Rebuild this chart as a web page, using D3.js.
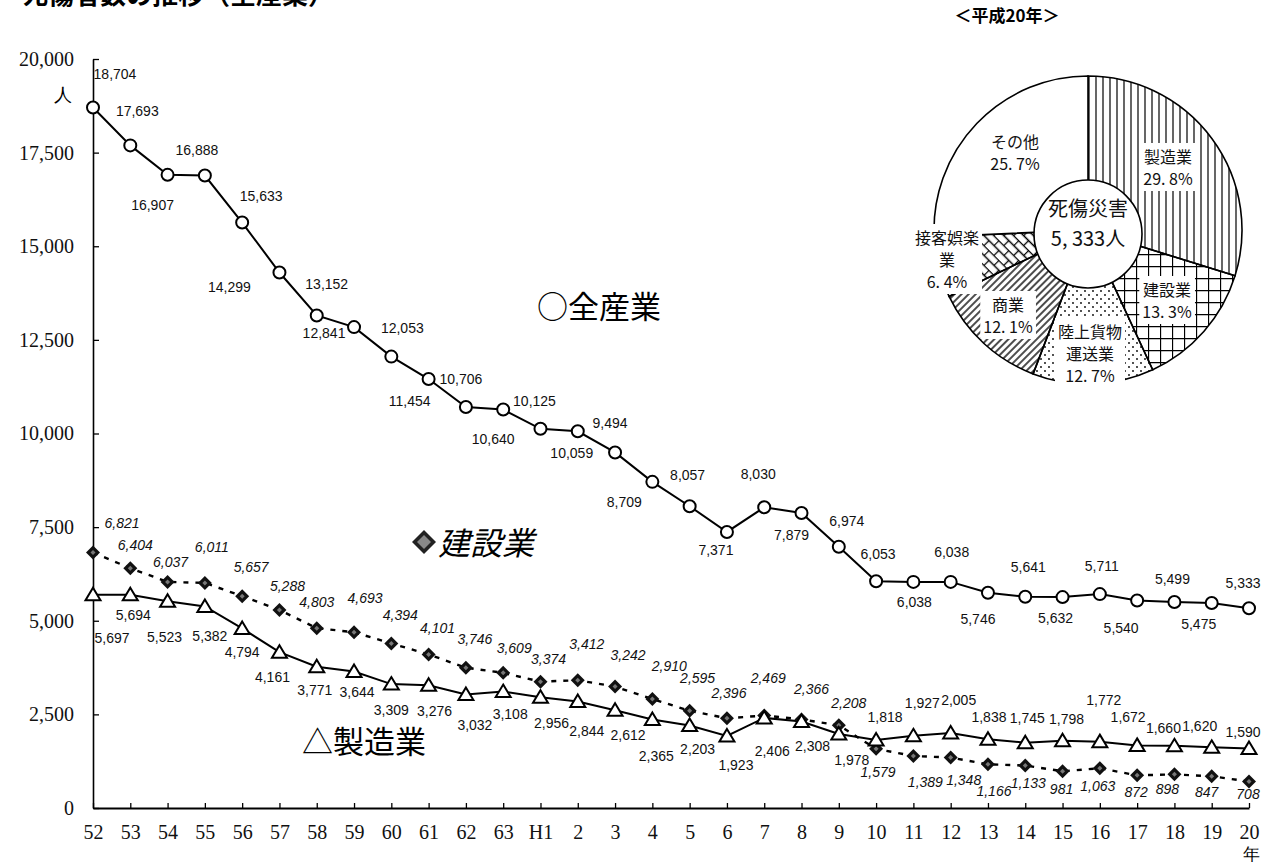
<!DOCTYPE html>
<html>
<head>
<meta charset="utf-8">
<script src="https://cdn.jsdelivr.net/npm/d3@7"></script>
<style>
  body { margin: 0; background: #fff; }
  svg { display: block; }
</style>
</head>
<body>
<script>
// 年（昭和52年～平成20年）
const years = ["52","53","54","55","56","57","58","59","60","61","62","63","H1",
  "2","3","4","5","6","7","8","9","10","11","12","13","14","15","16","17","18","19","20"];

// 全産業
const allIndustry = [18704,17693,16907,16888,15633,14299,13152,12841,12053,11454,10706,10640,10125,
  10059,9494,8709,8057,7371,8030,7879,6974,6053,6038,6038,5746,5641,5632,5711,5540,5499,5475,5333];
// 建設業
const construction = [6821,6404,6037,6011,5657,5288,4803,4693,4394,4101,3746,3609,3374,
  3412,3242,2910,2595,2396,2469,2366,2208,1579,1389,1348,1166,1133,981,1063,872,898,847,708];
// 製造業
const manufacturing = [5697,5694,5523,5382,4794,4161,3771,3644,3309,3276,3032,3108,2956,
  2844,2612,2365,2203,1923,2406,2308,1978,1818,1927,2005,1838,1745,1798,1772,1672,1660,1620,1590];

const yTicks = [0,2500,5000,7500,10000,12500,15000,17500,20000];

// 円グラフ（平成20年）
const pieNames = ["製造業","建設業","陸上貨物運送業","商業","接客娯楽業","その他"];
const pieShares = [29.8,13.3,12.7,12.1,6.4,25.7];
const pieTotal = 5333;

// ---- レイアウト（ラベルの位置ずらし：点からの相対位置） ----
const allOffsets = [[22,-33],[7,-34],[-15,30],[-8,-25],[19,-26],[-50,15],[10,-31],[-30,6],[11,-29],[-19,22],
  [-5,-28],[-10,30],[-6,-28],[-6,22],[-5,-29],[-28,20],[-2,-31],[-11,18],[-6,-33],[-10,22],[8,-26],
  [2,-27],[1,20],[1,-30],[-10,26],[3,-30],[-7,21],[2,-28],[-16,28],[-2,-23],[-13,21],[-6,-25]];
const conOffsets = [[29,-29],[5,-23],[3,-20],[7,-36],[9,-29],[8,-24],[0,-26],[11,-34],[9,-28],[9,-26],
  [9,-29],[11,-25],[8,-23],[9,-36],[13,-31],[17,-33],[8,-33],[2,-25],[4,-37],[10,-30],[10,-22],
  [2,23],[12,26],[13,23],[6,27],[3,18],[-1,18],[-2,18],[-1,17],[-7,15],[-5,16],[-1,13]];
const manOffsets = [[19,43],[3,20],[-3,36],[5,30],[0,24],[-7,25],[-2,23],[3,21],[0,26],[6,26],
  [9,31],[7,22],[11,26],[9,30],[13,25],[4,37],[8,24],[9,29],[8,33],[11,25],[13,26],
  [9,-23],[9,-33],[8,-33],[1,-22],[2,-25],[4,-22],[4,-42],[-9,-28],[-11,-18],[-12,-21],[-6,-16]];

// 円グラフのラベル位置（中心からの相対位置）と改行位置
const pieLabelPos = [[80,-67],[79,66],[2,108],[-80,81],[-141,14],[-73,-82]];
const pieWrap = [0,0,4,0,4,0];
const piePatterns = ["pVert","pGrid","pDots","pDiag","pBrick",null];

const width = 1274, height = 866;
const sans = "'Noto Sans CJK JP', 'Noto Sans', sans-serif";
const serif = "'Liberation Serif', 'DejaVu Serif', serif";
const num = "'Liberation Sans', Arial, sans-serif";

const svg = d3.select("body").append("svg")
    .attr("width", width)
    .attr("height", height)
    .style("background", "#fff");

// パターン定義
const defs = svg.append("defs");
const pv = defs.append("pattern").attr("id", "pVert").attr("patternUnits", "userSpaceOnUse")
    .attr("width", 7).attr("height", 7);
pv.append("line").attr("x1", 1).attr("x2", 1).attr("y1", 0).attr("y2", 7).attr("stroke", "#000").attr("stroke-width", 1.2);

const pg = defs.append("pattern").attr("id", "pGrid").attr("patternUnits", "userSpaceOnUse")
    .attr("width", 12).attr("height", 12);
pg.append("path").attr("d", "M0,0.5H12M0.5,0V12").attr("stroke", "#000").attr("stroke-width", 1.3).attr("fill", "none");

const pd = defs.append("pattern").attr("id", "pDots").attr("patternUnits", "userSpaceOnUse")
    .attr("width", 8).attr("height", 8);
pd.append("circle").attr("cx", 1).attr("cy", 1).attr("r", 0.9).attr("fill", "#000");
pd.append("circle").attr("cx", 5).attr("cy", 5).attr("r", 0.9).attr("fill", "#000");

const pdg = defs.append("pattern").attr("id", "pDiag").attr("patternUnits", "userSpaceOnUse")
    .attr("width", 5).attr("height", 5).attr("patternTransform", "rotate(45)");
pdg.append("line").attr("x1", 1).attr("x2", 1).attr("y1", 0).attr("y2", 5).attr("stroke", "#000").attr("stroke-width", 1.4);

const pb = defs.append("pattern").attr("id", "pBrick").attr("patternUnits", "userSpaceOnUse")
    .attr("width", 14).attr("height", 14).attr("patternTransform", "rotate(45)");
pb.append("path").attr("d", "M0,0.5H14M0,7.5H14M0.5,0V7M7.5,7V14")
    .attr("stroke", "#000").attr("stroke-width", 1.3).attr("fill", "none");

// スケール
const x = d3.scalePoint().domain(years).range([93, 1249]);
const y = d3.scaleLinear().domain([0, 20000]).range([808, 59]);

// 見出し（上端で切れている）
svg.append("text")
    .attr("x", 22).attr("y", 4)
    .attr("font-family", sans).attr("font-weight", 700).attr("font-size", 26)
    .text("死傷者数の推移（全産業）");

// Y軸
svg.append("g")
    .attr("transform", "translate(93,0)")
    .call(d3.axisLeft(y).tickValues(yTicks).tickFormat(d3.format(",")).tickSize(-6).tickSizeOuter(0).tickPadding(19))
    .call(g => g.select(".domain").attr("stroke-width", 1.6))
    .call(g => g.selectAll(".tick line").attr("stroke-width", 1.3))
    .call(g => g.selectAll("text").attr("font-family", serif).attr("font-size", 20).attr("fill", "#111"));

// X軸
svg.append("g")
    .attr("transform", "translate(0,808)")
    .call(d3.axisBottom(x).tickSize(-5).tickSizeOuter(0).tickPadding(17))
    .call(g => g.select(".domain").attr("stroke-width", 1.8))
    .call(g => g.selectAll(".tick line").attr("stroke-width", 1.3))
    .call(g => g.selectAll("text").attr("font-family", serif).attr("font-size", 20).attr("fill", "#111"));

// 単位
svg.append("text").attr("x", 63).attr("y", 101).attr("text-anchor", "middle")
    .attr("font-family", serif).attr("font-size", 18).text("人");
svg.append("text").attr("x", 1251).attr("y", 860).attr("text-anchor", "middle")
    .attr("font-family", serif).attr("font-size", 17).text("年");

const line = d3.line().x((d, i) => x(years[i])).y(d => y(d));

// 線
svg.append("path").datum(allIndustry).attr("d", line)
    .attr("fill", "none").attr("stroke", "#000").attr("stroke-width", 2);
svg.append("path").datum(manufacturing).attr("d", line)
    .attr("fill", "none").attr("stroke", "#000").attr("stroke-width", 2);
svg.append("path").datum(construction).attr("d", line)
    .attr("fill", "none").attr("stroke", "#000").attr("stroke-width", 2.4).attr("stroke-dasharray", "5,7");

// マーカー：建設業（◆）
svg.append("g").selectAll("g")
    .data(construction)
    .join("g")
    .attr("transform", (d, i) => `translate(${x(years[i])},${y(d)})`)
    .call(g => g.append("path").attr("d", "M0,-7L7,0L0,7L-7,0Z").attr("fill", "#111"))
    .call(g => g.append("path").attr("d", "M0,-2.5L2.5,0L0,2.5L-2.5,0Z").attr("fill", "#777"));

// マーカー：製造業（△）
svg.append("g").selectAll("path")
    .data(manufacturing)
    .join("path")
    .attr("transform", (d, i) => `translate(${x(years[i])},${y(d)})`)
    .attr("d", "M0,-7L7.5,5.5L-7.5,5.5Z")
    .attr("fill", "#fff").attr("stroke", "#000").attr("stroke-width", 2);

// マーカー：全産業（○）
svg.append("g").selectAll("circle")
    .data(allIndustry)
    .join("circle")
    .attr("cx", (d, i) => x(years[i]))
    .attr("cy", d => y(d))
    .attr("r", 6)
    .attr("fill", "#fff").attr("stroke", "#000").attr("stroke-width", 2);

// データラベル
const fmt = d3.format(",");
const addLabels = (values, offsets, italic) => {
  svg.append("g")
      .attr("font-family", num).attr("font-size", 14).attr("fill", "#111")
      .attr("text-anchor", "middle")
      .attr("font-style", italic ? "italic" : "normal")
    .selectAll("text")
    .data(values)
    .join("text")
      .attr("x", (d, i) => x(years[i]) + offsets[i][0])
      .attr("y", (d, i) => y(d) + offsets[i][1])
      .attr("dy", "0.35em")
      .text(d => fmt(d));
};
addLabels(allIndustry, allOffsets, false);
addLabels(construction, conOffsets, true);
addLabels(manufacturing, manOffsets, false);

// 系列名
svg.append("text").attr("x", 537).attr("y", 318)
    .attr("font-family", sans).attr("font-size", 31).text("○全産業");
svg.append("path").attr("transform", "translate(424,542)")
    .attr("d", "M0,-12L12,0L0,12L-12,0Z").attr("fill", "#222");
svg.append("path").attr("transform", "translate(424,542)")
    .attr("d", "M0,-7L7,0L0,7L-7,0Z").attr("fill", "#888");
svg.append("text").attr("x", 438).attr("y", 555)
    .attr("font-family", sans).attr("font-size", 32).attr("font-style", "italic").text("建設業");
svg.append("text").attr("x", 302).attr("y", 753)
    .attr("font-family", sans).attr("font-size", 31).text("△製造業");

// ---- 円グラフ ----
const cx = 1088, cy = 230, rOut = 154, rIn = 54;
svg.append("text").attr("x", 1007).attr("y", 22).attr("text-anchor", "middle")
    .attr("font-family", sans).attr("font-weight", 700).attr("font-size", 17).text("＜平成20年＞");

const pie = d3.pie().sort(null).value(d => d)(pieShares);
const arc = d3.arc().innerRadius(0).outerRadius(rOut);
const pg2 = svg.append("g").attr("transform", `translate(${cx},${cy})`);
pg2.selectAll("path")
    .data(pie)
    .join("path")
    .attr("d", arc)
    .attr("fill", (d, i) => piePatterns[i] ? `url(#${piePatterns[i]})` : "#fff")
    .attr("stroke", "#000").attr("stroke-width", 1.6);
pg2.append("circle").attr("cy", 4).attr("r", rIn).attr("fill", "#fff").attr("stroke", "#000").attr("stroke-width", 1.6);

const pctFmt = v => d3.format(".1f")(v).replace(".", ". ") + "%";
pieNames.forEach((name, i) => {
  const n = pieWrap[i];
  const lines = (n ? [name.slice(0, n), name.slice(n)] : [name]).concat([pctFmt(pieShares[i])]);
  const lg = pg2.append("g");
  const t = lg.append("text")
      .attr("text-anchor", "middle")
      .attr("font-family", sans).attr("font-size", 16).attr("fill", "#111");
  lines.forEach((s, j) => {
    t.append("tspan").attr("x", pieLabelPos[i][0]).attr("y", pieLabelPos[i][1] + j * 22).text(s);
  });
  const b = t.node().getBBox();
  lg.insert("rect", "text")
      .attr("x", b.x - 3).attr("y", b.y - 1)
      .attr("width", b.width + 6).attr("height", b.height + 2)
      .attr("fill", "#fff");
});

// 中央の合計（2行は別テキストにする）
pg2.append("text").attr("text-anchor", "middle").attr("x", 0).attr("y", -14)
    .attr("font-family", sans).attr("font-size", 20).attr("fill", "#111").text("死傷災害");
pg2.append("text").attr("text-anchor", "middle").attr("x", 0).attr("y", 16)
    .attr("font-family", sans).attr("font-size", 20).attr("fill", "#111")
    .text(d3.format(",")(pieTotal).replace(",", ", ") + "人");
</script>
</body>
</html>
